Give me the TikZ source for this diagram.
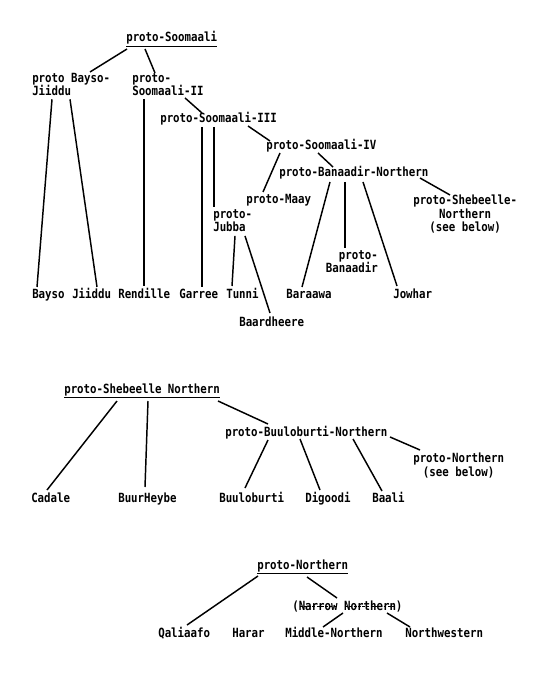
\documentclass[tikz,border=0pt]{standalone}
\usepackage{fontspec}
\setmonofont[FakeStretch=0.85]{DejaVu Sans Mono}
\usetikzlibrary{calc}

% underline and typed-over strike for labels
\newcommand{\ulbl}[1]{\setbox0=\hbox{#1}\rlap{#1}\rule[-0.42em]{\wd0}{0.9pt}}
\newcommand{\strk}[1]{\setbox0=\hbox{#1}\rlap{#1}\raisebox{0.3em}{\hbox to \wd0{\cleaders\hbox to 3.2pt{\hss\rule{2.2pt}{0.5pt}\hss}\hfill}}}

\begin{document}
\begin{tikzpicture}[x=0.75pt,y=-0.75pt,
    lang/.style={font=\fontsize{9.5}{10}\selectfont\ttfamily\bfseries, inner sep=0pt, anchor=base west},
    group/.style={lang, anchor=north west, align=left},
    branch/.style={line width=1.1pt}]
  \useasboundingbox (0,0) rectangle (545,680);

  % First tree: proto-Soomaali
  \node[lang] (soom) at (126,42) {\ulbl{proto-Soomaali}};
  \node[group] (bayso) at (32,73) {proto Bayso-\\Jiiddu};
  \node[group] (soomII) at (132,73) {proto-\\Soomaali-II};
  \node[lang] (soomIII) at (160,123) {proto-Soomaali-III};
  \node[lang] (soomIV) at (266,150) {proto-Soomaali-IV};
  \node[lang] (banN) at (279,177) {proto-Banaadir-Northern};
  \node[lang] (maay) at (246,204) {proto-Maay};
  \node[group] (jubba) at (213,209) {proto-\\Jubba};
  \node[group, align=center] (sheb) at (413,195) {proto-Shebeelle-\\Northern\\(see below)};
  \node[group, anchor=north east, align=right] (banaadir) at (378,250) {proto-\\Banaadir};

  % Leaves
  \node[lang] (bayLf) at (32,298) {Bayso};
  \node[lang] (jiiLf) at (72,298) {Jiiddu};
  \node[lang] (renLf) at (118,298) {Rendille};
  \node[lang] (garLf) at (179,298) {Garree};
  \node[lang] (tunLf) at (226,298) {Tunni};
  \node[lang] (barLf) at (286,298) {Baraawa};
  \node[lang] (jowLf) at (393,298) {Jowhar};
  \node[lang] (baaLf) at (239,326) {Baardheere};

  \draw[branch] ($(soom.base west)+(1,7)$) -- ($(bayso.north west)+(58,-1)$);
  \draw[branch] ($(soom.base west)+(19,7)$) -- ($(soomII.north west)+(23,0)$);
  \draw[branch] ($(bayso.south west)+(20,3)$) -- ($(bayLf.base west)+(5,-11)$);
  \draw[branch] ($(bayso.south west)+(38,3)$) -- ($(jiiLf.base west)+(25,-11)$);
  \draw[branch] ($(soomII.south west)+(12,3)$) -- ($(renLf.base west)+(26,-12)$);
  \draw[branch] ($(soomII.south west)+(53,2)$) -- ($(soomIII.base west)+(42,-10)$);
  \draw[branch] ($(soomIII.base west)+(42,4)$) -- ($(garLf.base west)+(23,-11)$);
  \draw[branch] ($(soomIII.base west)+(54,4)$) -- ($(jubba.north west)+(1,-2)$);
  \draw[branch] ($(soomIII.base west)+(88,3)$) -- ($(soomIV.base west)+(4,-9)$);
  \draw[branch] ($(soomIV.base west)+(14,3)$) -- ($(maay.base west)+(17,-12)$);
  \draw[branch] ($(soomIV.base west)+(52,3)$) -- ($(banN.base west)+(54,-10)$);
  \draw[branch] ($(banN.base west)+(51,5)$) -- ($(barLf.base west)+(16,-11)$);
  \draw[branch] ($(banN.base west)+(66,5)$) -- ($(banaadir.north east)+(-33,-2)$);
  \draw[branch] ($(banN.base west)+(84,5)$) -- ($(jowLf.base west)+(4,-12)$);
  \draw[branch] ($(banN.base west)+(141,1)$) -- ($(sheb.north west)+(37,0)$);
  \draw[branch] ($(jubba.south west)+(22,4)$) -- ($(tunLf.base west)+(6,-12)$);
  \draw[branch] ($(jubba.south west)+(32,4)$) -- ($(baaLf.base west)+(31,-13)$);

  % Second tree: proto-Shebeelle Northern
  \node[lang] (shebN) at (64,393) {\ulbl{proto-Shebeelle Northern}};
  \node[lang] (buuN) at (225,436) {proto-Buuloburti-Northern};
  \node[group, align=center] (northSee) at (413,453) {proto-Northern\\(see below)};
  \node[lang] (cadLf) at (31,502) {Cadale};
  \node[lang] (buuhLf) at (118,502) {BuurHeybe};
  \node[lang] (buuLf) at (219,502) {Buuloburti};
  \node[lang] (digLf) at (305,502) {Digoodi};
  \node[lang] (baaliLf) at (372,502) {Baali};

  \draw[branch] ($(shebN.base west)+(53,8)$) -- ($(cadLf.base west)+(16,-12)$);
  \draw[branch] ($(shebN.base west)+(84,8)$) -- ($(buuhLf.base west)+(27,-15)$);
  \draw[branch] ($(shebN.base west)+(154,8)$) -- ($(buuN.base west)+(43,-12)$);
  \draw[branch] ($(buuN.base west)+(43,4)$) -- ($(buuLf.base west)+(26,-14)$);
  \draw[branch] ($(buuN.base west)+(75,3)$) -- ($(digLf.base west)+(15,-12)$);
  \draw[branch] ($(buuN.base west)+(128,3)$) -- ($(baaliLf.base west)+(10,-11)$);
  \draw[branch] ($(buuN.base west)+(165,1)$) -- ($(northSee.north west)+(7,-3)$);

  % Third tree: proto-Northern
  \node[lang] (pnorth) at (257,569) {\ulbl{proto-Northern}};
  \node[lang] (narrow) at (292,610) {(\strk{Narrow} \strk{Northern})};
  \node[lang] (qalLf) at (158,637) {Qaliaafo};
  \node[lang] (harLf) at (232,637) {Harar};
  \node[lang] (midLf) at (285,637) {Middle-Northern};
  \node[lang] (nwLf) at (405,637) {Northwestern};

  \draw[branch] ($(pnorth.base west)+(1,7)$) -- ($(qalLf.base west)+(29,-12)$);
  \draw[branch] ($(pnorth.base west)+(50,8)$) -- ($(narrow.base west)+(45,-12)$);
  \draw[branch] ($(narrow.base west)+(51,3)$) -- ($(midLf.base west)+(38,-10)$);
  \draw[branch] ($(narrow.base west)+(95,3)$) -- ($(nwLf.base west)+(5,-10)$);
\end{tikzpicture}
\end{document}
